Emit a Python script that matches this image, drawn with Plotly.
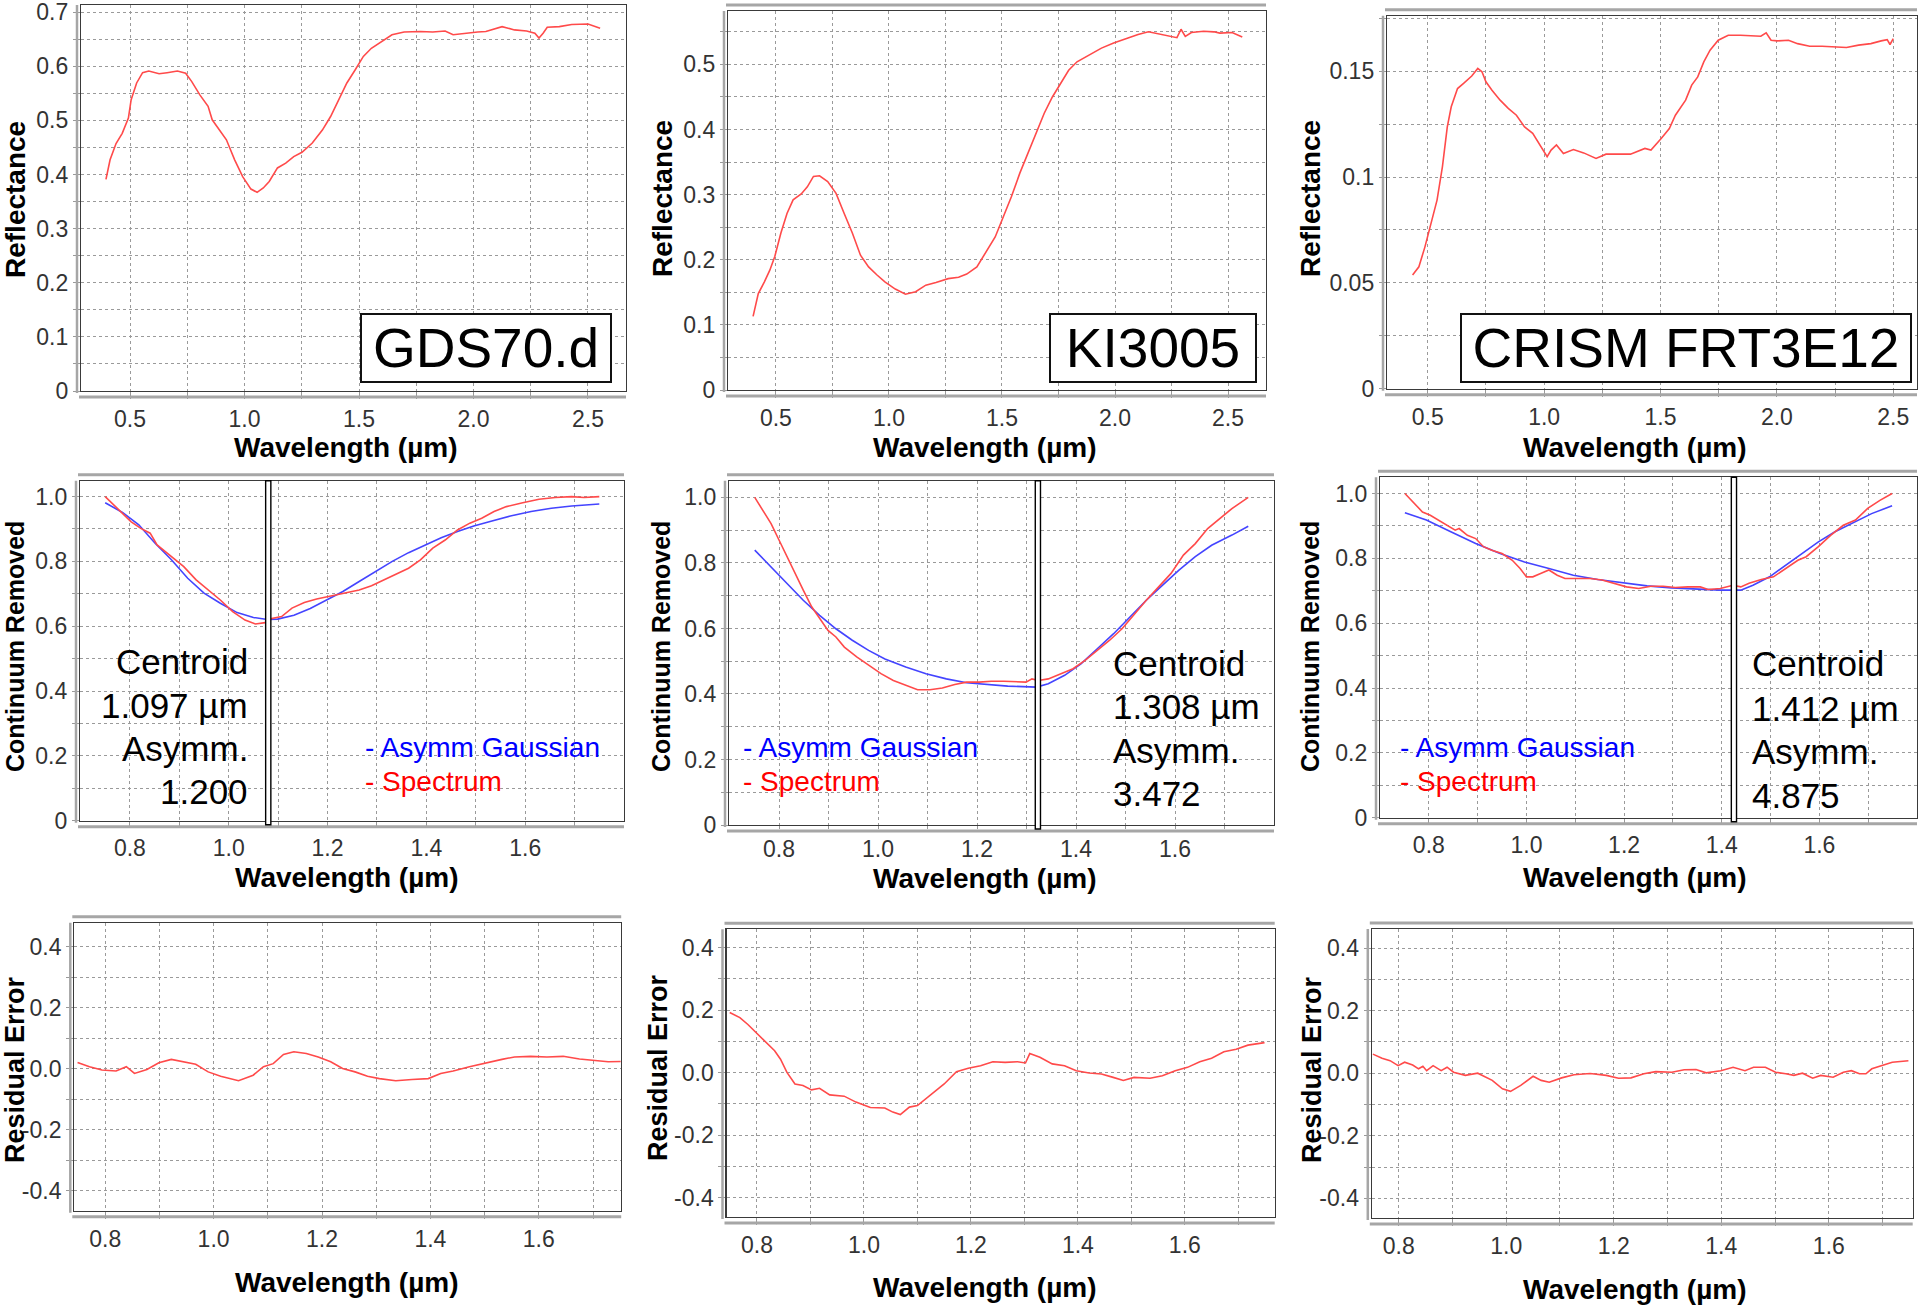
import plotly.graph_objects as go

# ======================= DATA =======================
SAMPLE_NAMES = ["GDS70.d", "KI3005", "CRISM FRT3E12"]

# --- Row 1 : reflectance spectra ---
GDS70_WL = [0.395, 0.413, 0.439, 0.466, 0.493, 0.505, 0.529, 0.555, 0.582, 0.627, 0.662, 0.707, 0.743, 0.769,
            0.805, 0.841, 0.859, 0.894, 0.921, 0.957, 0.992, 1.028, 1.055, 1.082, 1.108, 1.144, 1.180, 1.215,
            1.251, 1.296, 1.340, 1.376, 1.412, 1.447, 1.483, 1.519, 1.554, 1.599, 1.644, 1.697, 1.768, 1.822,
            1.876, 1.911, 1.965, 2.018, 2.054, 2.125, 2.179, 2.232, 2.268, 2.286, 2.304, 2.322, 2.375, 2.429,
            2.500, 2.553]
GDS70_R = [0.391, 0.427, 0.457, 0.476, 0.504, 0.538, 0.569, 0.588, 0.591, 0.586, 0.588, 0.591, 0.587, 0.572,
           0.547, 0.526, 0.501, 0.479, 0.464, 0.427, 0.396, 0.373, 0.367, 0.375, 0.387, 0.412, 0.421, 0.433,
           0.441, 0.458, 0.482, 0.507, 0.538, 0.569, 0.593, 0.618, 0.633, 0.646, 0.658, 0.663, 0.664, 0.663,
           0.665, 0.658, 0.661, 0.663, 0.664, 0.673, 0.667, 0.665, 0.661, 0.652, 0.661, 0.672, 0.673, 0.677,
           0.678, 0.670]

KI3005_WL = [0.399, 0.422, 0.449, 0.473, 0.495, 0.522, 0.549, 0.576, 0.612, 0.639, 0.666, 0.693, 0.729, 0.766,
             0.802, 0.838, 0.874, 0.910, 0.946, 0.982, 1.028, 1.073, 1.118, 1.163, 1.208, 1.262, 1.308, 1.344,
             1.389, 1.434, 1.470, 1.506, 1.542, 1.579, 1.615, 1.651, 1.687, 1.723, 1.759, 1.795, 1.832, 1.886,
             1.940, 1.994, 2.048, 2.102, 2.148, 2.193, 2.247, 2.274, 2.292, 2.311, 2.338, 2.392, 2.437, 2.464,
             2.518, 2.563]
KI3005_R = [0.113, 0.148, 0.166, 0.184, 0.205, 0.241, 0.271, 0.292, 0.301, 0.312, 0.328, 0.329, 0.320, 0.302,
            0.271, 0.241, 0.207, 0.189, 0.177, 0.166, 0.155, 0.147, 0.151, 0.161, 0.165, 0.171, 0.173, 0.178,
            0.189, 0.215, 0.235, 0.266, 0.297, 0.333, 0.363, 0.394, 0.425, 0.450, 0.471, 0.491, 0.504, 0.514,
            0.525, 0.533, 0.540, 0.546, 0.550, 0.547, 0.543, 0.541, 0.554, 0.543, 0.549, 0.551, 0.550, 0.548,
            0.549, 0.542]

CRISM_WL = [0.435, 0.462, 0.488, 0.514, 0.540, 0.563, 0.584, 0.601, 0.628, 0.654, 0.689, 0.715, 0.733, 0.750,
            0.776, 0.811, 0.846, 0.881, 0.916, 0.951, 0.986, 1.013, 1.030, 1.053, 1.083, 1.126, 1.170, 1.223,
            1.266, 1.319, 1.371, 1.433, 1.459, 1.503, 1.538, 1.564, 1.608, 1.634, 1.660, 1.686, 1.713, 1.748,
            1.791, 1.844, 1.896, 1.931, 1.954, 1.975, 2.001, 2.050, 2.089, 2.141, 2.194, 2.246, 2.299, 2.351,
            2.404, 2.448, 2.474, 2.486, 2.500]
CRISM_R = [0.0537, 0.0576, 0.0670, 0.0781, 0.0891, 0.1048, 0.1237, 0.1332, 0.1418, 0.1442, 0.1477, 0.1513,
           0.1497, 0.1450, 0.1410, 0.1363, 0.1324, 0.1292, 0.1237, 0.1206, 0.1143, 0.1096, 0.1127, 0.1151,
           0.1111, 0.1130, 0.1114, 0.1088, 0.1108, 0.1108, 0.1108, 0.1135, 0.1127, 0.1182, 0.1229, 0.1292,
           0.1363, 0.1434, 0.1473, 0.1544, 0.1599, 0.1646, 0.1670, 0.1670, 0.1667, 0.1665, 0.1681, 0.1646,
           0.1643, 0.1646, 0.1630, 0.1618, 0.1618, 0.1615, 0.1612, 0.1623, 0.1630, 0.1643, 0.1649, 0.1626,
           0.1654]

# --- Row 2 : continuum removed spectrum + asymmetric Gaussian fit ---
GDS_CR_WL = [0.750, 0.777, 0.802, 0.822, 0.841, 0.855, 0.884, 0.909, 0.934, 0.959, 0.983, 1.008, 1.033, 1.054,
             1.074, 1.087, 1.107, 1.128, 1.153, 1.178, 1.198, 1.219, 1.240, 1.264, 1.289, 1.314, 1.339, 1.364,
             1.388, 1.413, 1.438, 1.463, 1.488, 1.512, 1.537, 1.562, 1.595, 1.628, 1.661, 1.694, 1.719, 1.750]
GDS_CR = [1.000, 0.959, 0.923, 0.902, 0.887, 0.851, 0.815, 0.784, 0.743, 0.712, 0.681, 0.645, 0.619, 0.607,
          0.611, 0.624, 0.630, 0.656, 0.673, 0.684, 0.691, 0.697, 0.704, 0.712, 0.725, 0.743, 0.761, 0.779,
          0.805, 0.841, 0.866, 0.897, 0.918, 0.933, 0.954, 0.969, 0.981, 0.992, 0.997, 1.000, 0.997, 1.000]
GDS_FIT_WL = [0.750, 0.785, 0.818, 0.851, 0.884, 0.917, 0.950, 0.983, 1.017, 1.050, 1.078, 1.099, 1.132, 1.165,
              1.198, 1.231, 1.264, 1.298, 1.331, 1.364, 1.397, 1.430, 1.463, 1.496, 1.529, 1.570, 1.612, 1.653,
              1.694, 1.750]
GDS_FIT = [0.981, 0.951, 0.913, 0.856, 0.805, 0.748, 0.702, 0.671, 0.642, 0.627, 0.621, 0.622, 0.634, 0.655,
           0.681, 0.707, 0.738, 0.769, 0.800, 0.827, 0.851, 0.873, 0.892, 0.909, 0.923, 0.940, 0.954, 0.964,
           0.971, 0.977]

KI_CR_WL = [0.751, 0.767, 0.784, 0.800, 0.816, 0.833, 0.849, 0.866, 0.882, 0.899, 0.915, 0.932, 0.957, 0.981,
            1.006, 1.031, 1.056, 1.080, 1.105, 1.130, 1.155, 1.179, 1.204, 1.229, 1.254, 1.278, 1.299, 1.311,
            1.324, 1.344, 1.369, 1.394, 1.419, 1.443, 1.468, 1.493, 1.518, 1.542, 1.567, 1.592, 1.617, 1.641,
            1.666, 1.691, 1.715, 1.748]
KI_CR = [1.000, 0.961, 0.920, 0.870, 0.819, 0.768, 0.717, 0.666, 0.630, 0.594, 0.574, 0.543, 0.513, 0.487,
         0.462, 0.441, 0.426, 0.413, 0.413, 0.418, 0.429, 0.436, 0.436, 0.439, 0.439, 0.438, 0.436, 0.446,
         0.441, 0.446, 0.462, 0.477, 0.503, 0.533, 0.564, 0.599, 0.645, 0.686, 0.727, 0.768, 0.824, 0.859,
         0.905, 0.936, 0.966, 1.000]
KI_FIT_WL = [0.751, 0.784, 0.816, 0.849, 0.882, 0.915, 0.948, 0.981, 1.014, 1.056, 1.097, 1.138, 1.179, 1.221,
             1.262, 1.320, 1.344, 1.377, 1.410, 1.443, 1.476, 1.509, 1.542, 1.575, 1.608, 1.641, 1.674, 1.715,
             1.748]
KI_FIT = [0.839, 0.788, 0.737, 0.686, 0.640, 0.599, 0.564, 0.533, 0.507, 0.482, 0.462, 0.446, 0.434, 0.428,
          0.424, 0.421, 0.431, 0.457, 0.492, 0.538, 0.584, 0.635, 0.686, 0.732, 0.778, 0.819, 0.854, 0.885,
          0.912]

CRISM_CR_WL = [0.751, 0.770, 0.787, 0.803, 0.820, 0.837, 0.854, 0.862, 0.879, 0.896, 0.912, 0.929, 0.950, 0.971,
               0.987, 1.000, 1.013, 1.029, 1.046, 1.063, 1.079, 1.105, 1.130, 1.155, 1.180, 1.205, 1.230, 1.255,
               1.280, 1.305, 1.331, 1.356, 1.372, 1.397, 1.423, 1.439, 1.456, 1.481, 1.506, 1.531, 1.556, 1.573,
               1.598, 1.623, 1.649, 1.674, 1.699, 1.724, 1.749]
CRISM_CR = [1.000, 0.969, 0.943, 0.933, 0.918, 0.902, 0.887, 0.892, 0.871, 0.861, 0.836, 0.825, 0.815, 0.794,
            0.769, 0.743, 0.743, 0.753, 0.764, 0.748, 0.738, 0.738, 0.738, 0.733, 0.723, 0.712, 0.707, 0.714,
            0.714, 0.710, 0.712, 0.712, 0.704, 0.707, 0.717, 0.712, 0.723, 0.735, 0.743, 0.769, 0.794, 0.805,
            0.836, 0.871, 0.902, 0.918, 0.954, 0.979, 1.000]
CRISM_FIT_WL = [0.751, 0.795, 0.845, 0.896, 0.946, 0.996, 1.046, 1.096, 1.146, 1.196, 1.247, 1.297, 1.347,
                1.397, 1.439, 1.464, 1.498, 1.531, 1.565, 1.598, 1.632, 1.665, 1.707, 1.749]
CRISM_FIT = [0.941, 0.918, 0.882, 0.846, 0.815, 0.789, 0.769, 0.748, 0.735, 0.725, 0.715, 0.709, 0.705, 0.702,
             0.702, 0.717, 0.743, 0.779, 0.815, 0.851, 0.882, 0.907, 0.938, 0.962]

CENTROID_LINE_X = [1.08, 1.323, 1.425]
CENTROID_TEXT = [["Centroid", "1.097 µm", "Asymm.", "1.200"],
                 ["Centroid", "1.308 µm", "Asymm.", "3.472"],
                 ["Centroid", "1.412 µm", "Asymm.", "4.875"]]
LEGEND_TEXT = ["- Asymm Gaussian", "- Spectrum"]

# --- Row 3 : residual error ---
GDS_RES_WL = [0.749, 0.771, 0.794, 0.820, 0.839, 0.854, 0.877, 0.899, 0.922, 0.945, 0.967, 0.990, 1.013, 1.046,
              1.073, 1.092, 1.110, 1.129, 1.148, 1.171, 1.193, 1.216, 1.238, 1.261, 1.284, 1.306, 1.336, 1.366,
              1.396, 1.419, 1.442, 1.472, 1.502, 1.532, 1.555, 1.585, 1.615, 1.645, 1.675, 1.706, 1.728, 1.751]
GDS_RES = [0.021, 0.007, -0.004, -0.007, 0.007, -0.015, -0.002, 0.020, 0.031, 0.023, 0.015, -0.010, -0.024,
           -0.039, -0.021, 0.007, 0.017, 0.047, 0.056, 0.050, 0.039, 0.023, 0.001, -0.010, -0.024, -0.032,
           -0.039, -0.035, -0.032, -0.015, -0.007, 0.007, 0.020, 0.031, 0.039, 0.041, 0.039, 0.041, 0.032,
           0.028, 0.023, 0.024]

KI_RES_WL = [0.749, 0.768, 0.783, 0.798, 0.814, 0.833, 0.844, 0.856, 0.871, 0.886, 0.902, 0.917, 0.936, 0.963,
             0.985, 1.012, 1.039, 1.054, 1.068, 1.085, 1.100, 1.115, 1.130, 1.150, 1.173, 1.195, 1.218, 1.241,
             1.264, 1.287, 1.302, 1.310, 1.329, 1.352, 1.375, 1.397, 1.421, 1.444, 1.466, 1.485, 1.505, 1.535,
             1.558, 1.582, 1.605, 1.628, 1.650, 1.673, 1.696, 1.718, 1.749]
KI_RES = [0.192, 0.176, 0.154, 0.128, 0.102, 0.070, 0.043, 0.001, -0.036, -0.041, -0.055, -0.050, -0.071,
          -0.075, -0.094, -0.111, -0.113, -0.126, -0.134, -0.110, -0.105, -0.084, -0.062, -0.036, 0.003, 0.014,
          0.022, 0.035, 0.033, 0.035, 0.031, 0.061, 0.049, 0.028, 0.022, 0.006, -0.001, -0.004, -0.015, -0.025,
          -0.015, -0.018, -0.010, 0.006, 0.017, 0.035, 0.046, 0.067, 0.075, 0.088, 0.096]

CRISM_RES_WL = [0.752, 0.769, 0.784, 0.799, 0.811, 0.826, 0.837, 0.845, 0.852, 0.864, 0.879, 0.890, 0.902,
                0.924, 0.947, 0.974, 0.993, 1.008, 1.027, 1.050, 1.065, 1.080, 1.103, 1.126, 1.156, 1.186, 1.209,
                1.232, 1.256, 1.278, 1.308, 1.331, 1.353, 1.372, 1.399, 1.422, 1.444, 1.460, 1.482, 1.501, 1.520,
                1.535, 1.551, 1.570, 1.585, 1.608, 1.627, 1.642, 1.657, 1.669, 1.680, 1.699, 1.718, 1.748]
CRISM_RES = [0.061, 0.048, 0.040, 0.024, 0.035, 0.026, 0.014, 0.022, 0.008, 0.024, 0.008, 0.019, 0.003, -0.007,
             0.000, -0.023, -0.050, -0.058, -0.039, -0.010, -0.023, -0.029, -0.015, -0.005, -0.001, -0.007,
             -0.016, -0.015, -0.002, 0.005, 0.003, 0.011, 0.012, 0.001, 0.008, 0.019, 0.008, 0.019, 0.019, 0.003,
             -0.002, -0.007, 0.000, -0.016, -0.007, -0.013, 0.003, 0.008, -0.002, -0.002, 0.014, 0.024, 0.035,
             0.040]

# --- tick values / labels ---
ROW1_X_TICKVALS = [0.5, 0.75, 1.0, 1.25, 1.5, 1.75, 2.0, 2.25, 2.5]
ROW1_X_TICKTEXT = ["0.5", "", "1.0", "", "1.5", "", "2.0", "", "2.5"]
P1_Y_TICKVALS = [0, 0.05, 0.1, 0.15, 0.2, 0.25, 0.3, 0.35, 0.4, 0.45, 0.5, 0.55, 0.6, 0.65, 0.7]
P1_Y_TICKTEXT = ["0", "", "0.1", "", "0.2", "", "0.3", "", "0.4", "", "0.5", "", "0.6", "", "0.7"]
P2_Y_TICKVALS = [0, 0.05, 0.1, 0.15, 0.2, 0.25, 0.3, 0.35, 0.4, 0.45, 0.5, 0.55]
P2_Y_TICKTEXT = ["0", "", "0.1", "", "0.2", "", "0.3", "", "0.4", "", "0.5", ""]
P3_Y_TICKVALS = [0, 0.025, 0.05, 0.075, 0.1, 0.125, 0.15, 0.175]
P3_Y_TICKTEXT = ["0", "", "0.05", "", "0.1", "", "0.15", ""]
ROW23_X_TICKVALS = [0.8, 0.9, 1.0, 1.1, 1.2, 1.3, 1.4, 1.5, 1.6, 1.7]
ROW23_X_TICKTEXT = ["0.8", "", "1.0", "", "1.2", "", "1.4", "", "1.6", ""]
ROW2_Y_TICKVALS = [0, 0.1, 0.2, 0.3, 0.4, 0.5, 0.6, 0.7, 0.8, 0.9, 1.0]
ROW2_Y_TICKTEXT = ["0", "", "0.2", "", "0.4", "", "0.6", "", "0.8", "", "1.0"]
ROW3_Y_TICKVALS = [-0.4, -0.3, -0.2, -0.1, 0.0, 0.1, 0.2, 0.3, 0.4]
ROW3_Y_TICKTEXT = ["-0.4", "", "-0.2", "", "0.0", "", "0.2", "", "0.4"]

X_TITLE = "Wavelength (µm)"
Y_TITLES = ["Reflectance", "Continuum Removed", "Residual Error"]

# ======================= LAYOUT / STYLE =======================
W, H = 1920, 1306
FONT = "Liberation Sans, Arial, Helvetica, sans-serif"
RED = "#ff4a4a"
BLUE = "#4444ff"
GRID = "#9a9a9a"
AXGREY = "#a6a6a6"


def px(x):
    return x / W


def py(y):
    return 1 - y / H


def clamp(v):
    return min(1.0, max(0.0, v))


# panel boxes in screen pixels (left, top, right, bottom) + ranges
PANELS = [
    dict(box=(81, 5, 626, 391), xr=[0.286, 2.666], yr=[0, 0.713], xt=(ROW1_X_TICKVALS, ROW1_X_TICKTEXT),
         yt=(P1_Y_TICKVALS, P1_Y_TICKTEXT), top=False, xlen=7),
    dict(box=(728, 11, 1266, 390), xr=[0.288, 2.668], yr=[0, 0.582], xt=(ROW1_X_TICKVALS, ROW1_X_TICKTEXT),
         yt=(P2_Y_TICKVALS, P2_Y_TICKTEXT), top=True, xlen=7),
    dict(box=(1387, 15.7, 1917, 388.7), xr=[0.325, 2.602], yr=[0, 0.1762], xt=(ROW1_X_TICKVALS, ROW1_X_TICKTEXT),
         yt=(P3_Y_TICKVALS, P3_Y_TICKTEXT), top=True, xlen=7),
    dict(box=(80, 480.7, 624, 820.7), xr=[0.699, 1.80], yr=[0, 1.049], xt=(ROW23_X_TICKVALS, ROW23_X_TICKTEXT),
         yt=(ROW2_Y_TICKVALS, ROW2_Y_TICKTEXT), top=True, xlen=6),
    dict(box=(729, 480.7, 1274, 825), xr=[0.699, 1.80], yr=[0, 1.051], xt=(ROW23_X_TICKVALS, ROW23_X_TICKTEXT),
         yt=(ROW2_Y_TICKVALS, ROW2_Y_TICKTEXT), top=True, xlen=3),
    dict(box=(1380, 477.3, 1917, 817.7), xr=[0.70, 1.80], yr=[0, 1.05], xt=(ROW23_X_TICKVALS, ROW23_X_TICKTEXT),
         yt=(ROW2_Y_TICKVALS, ROW2_Y_TICKTEXT), top=True, xlen=6),
    dict(box=(74.3, 922.7, 621.2, 1210.7), xr=[0.743, 1.752], yr=[-0.465, 0.479],
         xt=(ROW23_X_TICKVALS, ROW23_X_TICKTEXT), yt=(ROW3_Y_TICKVALS, ROW3_Y_TICKTEXT), top=True, xlen=7),
    dict(box=(726.5, 929.3, 1274.7, 1217), xr=[0.743, 1.768], yr=[-0.461, 0.458],
         xt=(ROW23_X_TICKVALS, ROW23_X_TICKTEXT), yt=(ROW3_Y_TICKVALS, ROW3_Y_TICKTEXT), top=True, xlen=7),
    dict(box=(1371.8, 929, 1912.7, 1218), xr=[0.75, 1.756], yr=[-0.463, 0.461],
         xt=(ROW23_X_TICKVALS, ROW23_X_TICKTEXT), yt=(ROW3_Y_TICKVALS, ROW3_Y_TICKTEXT), top=True, xlen=7),
]

fig = go.Figure()
layout = dict(width=W, height=H, autosize=False, margin=dict(l=0, r=0, t=0, b=0),
              paper_bgcolor="white", plot_bgcolor="white", showlegend=False,
              font=dict(family=FONT, color="#333333"))
shapes = []
annotations = []


def axname(i):
    return ("x", "y") if i == 0 else (f"x{i + 1}", f"y{i + 1}")


for i, p in enumerate(PANELS):
    l, t, r, b = p["box"]
    common = dict(showline=True, mirror=True, linecolor="#3a3a3a", linewidth=1.2,
                  ticks="outside", ticklen=7, tickcolor="#999999", tickwidth=1,
                  tickfont=dict(size=23, color="#333333", family=FONT),
                  showgrid=True, gridcolor=GRID, gridwidth=1, griddash="dot",
                  zeroline=False, automargin=False, tickmode="array", fixedrange=True,
                  ticklabeloverflow="allow")
    xa, ya = axname(i)
    layout["xaxis" if i == 0 else f"xaxis{i + 1}"] = dict(
        common, domain=[clamp(px(l)), clamp(px(r))], range=p["xr"], anchor=ya,
        tickvals=p["xt"][0], ticktext=p["xt"][1], ticklen=p["xlen"])
    layout["yaxis" if i == 0 else f"yaxis{i + 1}"] = dict(
        common, domain=[clamp(py(b)), clamp(py(t))], range=p["yr"], anchor=xa,
        tickvals=p["yt"][0], ticktext=p["yt"][1])
    # offset grey axis lines (JFreeChart style)
    off = 6
    shapes.append(dict(type="line", xref="paper", yref="paper", x0=px(l - 2), x1=px(r), y0=py(b + off),
                       y1=py(b + off), line=dict(color=AXGREY, width=3), layer="above"))
    shapes.append(dict(type="line", xref="paper", yref="paper", x0=px(l - 4), x1=px(l - 4), y0=py(b + 2),
                       y1=py(t), line=dict(color=AXGREY, width=2.5), layer="above"))
    if p["top"]:
        shapes.append(dict(type="line", xref="paper", yref="paper", x0=px(l - 2), x1=px(r), y0=py(t - off),
                           y1=py(t - off), line=dict(color=AXGREY, width=3), layer="above"))

# ----- traces -----
line_red = dict(color=RED, width=1.6)
line_blue = dict(color=BLUE, width=1.6)
row1 = [(GDS70_WL, GDS70_R), (KI3005_WL, KI3005_R), (CRISM_WL, CRISM_R)]
row2 = [(GDS_CR_WL, GDS_CR, GDS_FIT_WL, GDS_FIT), (KI_CR_WL, KI_CR, KI_FIT_WL, KI_FIT),
        (CRISM_CR_WL, CRISM_CR, CRISM_FIT_WL, CRISM_FIT)]
row3 = [(GDS_RES_WL, GDS_RES), (KI_RES_WL, KI_RES), (CRISM_RES_WL, CRISM_RES)]

for j, (xw, yv) in enumerate(row1):
    xa, ya = axname(j)
    fig.add_trace(go.Scatter(x=xw, y=yv, mode="lines", line=line_red, xaxis=xa, yaxis=ya, hoverinfo="skip"))
for j, (sx, sy, fx, fy) in enumerate(row2):
    xa, ya = axname(3 + j)
    fig.add_trace(go.Scatter(x=fx, y=fy, mode="lines", line=line_blue, xaxis=xa, yaxis=ya, hoverinfo="skip"))
    fig.add_trace(go.Scatter(x=sx, y=sy, mode="lines", line=line_red, xaxis=xa, yaxis=ya, hoverinfo="skip"))
for j, (xw, yv) in enumerate(row3):
    xa, ya = axname(6 + j)
    fig.add_trace(go.Scatter(x=xw, y=yv, mode="lines", line=line_red, xaxis=xa, yaxis=ya, hoverinfo="skip"))

# ----- sample name boxes (row 1) -----
name_boxes = [(360, 313.5, 612, 383.5), (1049, 313.5, 1257, 383.5), (1460, 313.5, 1912, 383.5)]
for name, (x0, y0, x1, y1) in zip(SAMPLE_NAMES, name_boxes):
    annotations.append(dict(text=name, xref="paper", yref="paper", x=px((x0 + x1) / 2), y=py((y0 + y1) / 2),
                            xanchor="center", yanchor="middle", showarrow=False,
                            width=x1 - x0 - 4, height=y1 - y0 - 4, align="center", valign="middle",
                            bgcolor="white", bordercolor="#111111", borderwidth=2, borderpad=0,
                            font=dict(size=55, color="black", family=FONT)))

# ----- row 2 : centroid lines, text, legends -----
cent_text_pos = [(250, [661.7, 705, 748.3, 791.7], "right"),
                 (1111.4, [663.3, 706.7, 750, 793.3], "left"),
                 (1750, [663.3, 708.3, 751.7, 795], "left")]
legend_pos = [(363, (355, 724, 605, 798)), (741, (736, 724, 979, 798)), (1397.6, (1392, 724, 1635, 798))]
for j in range(3):
    i = 3 + j
    l, t, r, b = PANELS[i]["box"]
    xa, ya = axname(i)
    shapes.append(dict(type="rect", xref=xa, xsizemode="pixel", xanchor=CENTROID_LINE_X[j], x0=-2.6, x1=2.6,
                       yref="paper", y0=py(b + 4), y1=py(t), fillcolor="white",
                       line=dict(color="black", width=1.4), layer="above"))
    tx, tys, al = cent_text_pos[j]
    for txt, ty in zip(CENTROID_TEXT[j], tys):
        annotations.append(dict(text=txt, xref="paper", yref="paper", x=px(tx), y=py(ty),
                                xanchor=al, yanchor="middle", showarrow=False,
                                font=dict(size=35, color="black", family=FONT)))
    lx, (bx0, by0, bx1, by1) = legend_pos[j]
    shapes.append(dict(type="rect", xref="paper", yref="paper", x0=px(bx0), x1=px(bx1), y0=py(by1), y1=py(by0),
                       fillcolor="white", line=dict(width=0), layer="between"))
    for txt, ty, col in zip(LEGEND_TEXT, [747, 781.7], ["#0000ff", "#ff0000"]):
        annotations.append(dict(text=txt, xref="paper", yref="paper", x=px(lx), y=py(ty),
                                xanchor="left", yanchor="middle", showarrow=False,
                                font=dict(size=28, color=col, family=FONT)))

# ----- axis titles -----
xt_pos = [(346, 448), (984.5, 448), (1634.7, 448),
          (346.5, 877), (984.5, 878), (1634.7, 877),
          (346.5, 1282), (984.5, 1287), (1634.7, 1289)]
yt_pos = [(16, 200), (662, 199), (1310, 199),
          (15, 647), (661, 647), (1310, 647),
          (15, 1070), (658, 1068), (1312, 1070)]
y_title_size = [28, 25, 27]
for i in range(9):
    annotations.append(dict(text="<b>" + X_TITLE + "</b>", xref="paper", yref="paper",
                            x=px(xt_pos[i][0]), y=py(xt_pos[i][1]), xanchor="center", yanchor="middle",
                            showarrow=False, font=dict(size=28, color="black", family=FONT)))
    annotations.append(dict(text="<b>" + Y_TITLES[i // 3] + "</b>", xref="paper", yref="paper",
                            x=px(yt_pos[i][0]), y=py(yt_pos[i][1]), xanchor="center", yanchor="middle",
                            textangle=-90, showarrow=False,
                            font=dict(size=y_title_size[i // 3], color="black", family=FONT)))

layout["shapes"] = shapes
layout["annotations"] = annotations
fig.update_layout(**layout)
# remove the default page margin so the 1920x1306 figure fills the window exactly
fig.write_html("out.html", config={"displayModeBar": False, "staticPlot": True},
               post_script="document.body.style.margin='0px';document.body.style.overflow='hidden';")
